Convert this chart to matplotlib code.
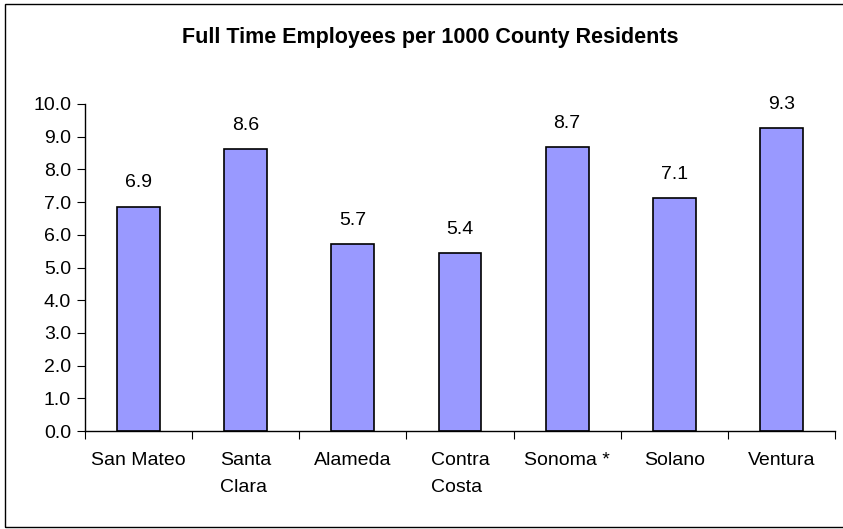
import matplotlib.pyplot as plt
from matplotlib.patches import Rectangle

plt.rcParams['font.family'] = ['Liberation Sans', 'DejaVu Sans']

counties = ['San Mateo', 'Santa\nClara', 'Alameda', 'Contra\nCosta', 'Sonoma *', 'Solano', 'Ventura']
employees = [6.86, 8.62, 5.72, 5.44, 8.68, 7.13, 9.27]
labels = ['6.9', '8.6', '5.7', '5.4', '8.7', '7.1', '9.3']
yticks = [0, 1, 2, 3, 4, 5, 6, 7, 8, 9, 10]

W, H = 843, 529
fig = plt.figure(figsize=(W / 100, H / 100), dpi=100)
ax = fig.add_axes([85 / W, (H - 431) / H, 750 / W, (431 - 104) / H])

x = range(len(counties))
ax.bar(x, employees, width=0.4, color='#9999ff', edgecolor='black', linewidth=1.2)

for i, (v, lab) in enumerate(zip(employees, labels)):
    ax.annotate(lab, (i, v), xytext=(0, 11), textcoords='offset points',
                ha='center', va='bottom', fontsize=14)

ax.set_xlim(-0.5, len(counties) - 0.5)
ax.set_ylim(0, 10)
ax.set_yticks(yticks)
ax.set_yticklabels([f'{t:.1f}' for t in yticks], fontsize=14)

# category labels between the boundary ticks
ax.set_xticks([i + 0.5 for i in range(-1, len(counties))])
ax.set_xticklabels([])
ax.set_xticks(list(x), minor=True)
ax.set_xticklabels(counties, minor=True, fontsize=14, linespacing=1.75,
                   va='top', multialignment='left')
ax.tick_params(axis='x', which='minor', length=0, pad=15)
ax.tick_params(axis='x', which='major', length=6, direction='out')
ax.tick_params(axis='y', length=6, direction='out', pad=4)

for s in ['top', 'right']:
    ax.spines[s].set_visible(False)
ax.spines['left'].set_linewidth(1)
ax.spines['bottom'].set_linewidth(1)

fig.text(430 / W, 1 - 37 / H, 'Full Time Employees per 1000 County Residents',
         ha='center', va='center', fontsize=15.5, fontweight='bold')

fig.patches.append(Rectangle((5 / W, 2 / H), (850 - 5) / W, (525 - 2) / H,
                             transform=fig.transFigure, fill=False,
                             edgecolor='black', linewidth=1))

fig.savefig('out.png', dpi=100)
